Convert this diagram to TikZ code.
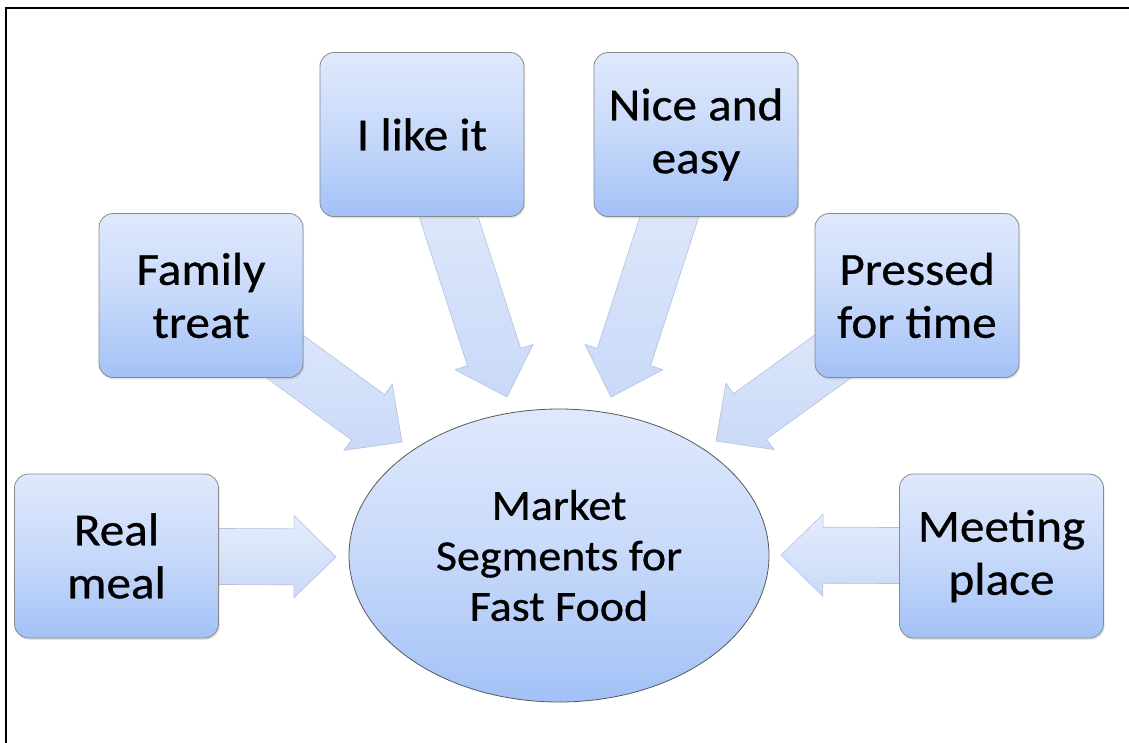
\documentclass[tikz,border=0pt]{standalone}
\usepackage{fontspec}
\setmainfont{Carlito}[FakeStretch=1.07,FakeBold=0.6]
\usetikzlibrary{calc,shapes.geometric,shadows}

\pgfdeclarelayer{paper}
\pgfdeclarelayer{arrows}
\pgfsetlayers{paper,arrows,main}

\definecolor{boxtop}{HTML}{DFE9FC}
\definecolor{boxmid}{HTML}{C7D9FA}
\definecolor{boxbot}{HTML}{A3C1F7}
\definecolor{arrtop}{HTML}{E5EDFC}
\definecolor{arrbot}{HTML}{C9D9F8}
\definecolor{arredge}{HTML}{B3C1DA}
\definecolor{boxedge}{HTML}{8A8A8A}

\tikzset{
  segbox/.style={rectangle, rounded corners=14pt, minimum width=204pt,
    minimum height=164pt, inner sep=0pt, draw=boxedge, line width=0.8pt,
    top color=boxtop, bottom color=boxbot, middle color=boxmid,
    align=center, font=\fontsize{46}{53}\selectfont,
    drop shadow={opacity=0.22, shadow xshift=1.2pt, shadow yshift=-1.8pt}},
  hub/.style={ellipse, minimum width=420pt, minimum height=293pt,
    inner sep=0pt, draw=black!65, line width=0.8pt,
    top color=boxtop, bottom color=boxbot, middle color=boxmid,
    align=center, font=\fontsize{43}{50.5}\selectfont},
  blockarrow/.style={draw=arredge, line width=0.6pt, line join=miter,
    top color=arrtop, bottom color=arrbot},
}

% broad block arrow from the centre of a box to a tip point
\newcommand\feedarrow[2]{%
  \path (#1.center) coordinate (fa-s) (#2) coordinate (fa-t)
    ($(fa-t)!42pt!(fa-s)$) coordinate (fa-b);
  \draw[blockarrow]
    ($(fa-s)!28pt!90:(fa-t)$) -- ($(fa-b)!28pt!90:(fa-t)$)
    -- ($(fa-b)!41pt!90:(fa-t)$) -- (fa-t)
    -- ($(fa-b)!41pt!-90:(fa-t)$) -- ($(fa-b)!28pt!-90:(fa-t)$)
    -- ($(fa-s)!28pt!-90:(fa-t)$) -- cycle;
}

\begin{document}
\begin{tikzpicture}[x=1pt,y=-1pt]
  \useasboundingbox (0,0) rectangle (1129,742);
  \begin{pgfonlayer}{paper}
    \fill[white] (-10,-10) rectangle (1140,752);
    \draw[line width=2pt] (6.3,760) -- (6.3,8.3) -- (1150,8.3);
  \end{pgfonlayer}

  % central ellipse
  \node[hub] (hub) at (559,555.5) {Market\\Segments for\\Fast Food};

  % segment boxes
  \node[segbox] (real)  at (116.5,556)   {Real\\meal};
  \node[segbox] (fam)   at (201,295.5)   {Family\\treat};
  \node[segbox] (like)  at (422,134.5)   {I like it};
  \node[segbox] (nice)  at (696,134.5)   {Nice and\\easy};
  \node[segbox] (press) at (917,295.5)   {Pressed\\for time};
  \node[segbox] (meet)  at (1001.5,556)  {Meeting\\place};

  % arrow tips around the ellipse
  \coordinate (tReal)  at (336,557);
  \coordinate (tFam)   at (402,442);
  \coordinate (tLike)  at (507,397);
  \coordinate (tNice)  at (611,397);
  \coordinate (tPress) at (716,441);
  \coordinate (tMeet)  at (781,555);

  \begin{pgfonlayer}{arrows}
    \feedarrow{real}{tReal}
    \feedarrow{fam}{tFam}
    \feedarrow{like}{tLike}
    \feedarrow{nice}{tNice}
    \feedarrow{press}{tPress}
    \feedarrow{meet}{tMeet}
  \end{pgfonlayer}
\end{tikzpicture}
\end{document}
